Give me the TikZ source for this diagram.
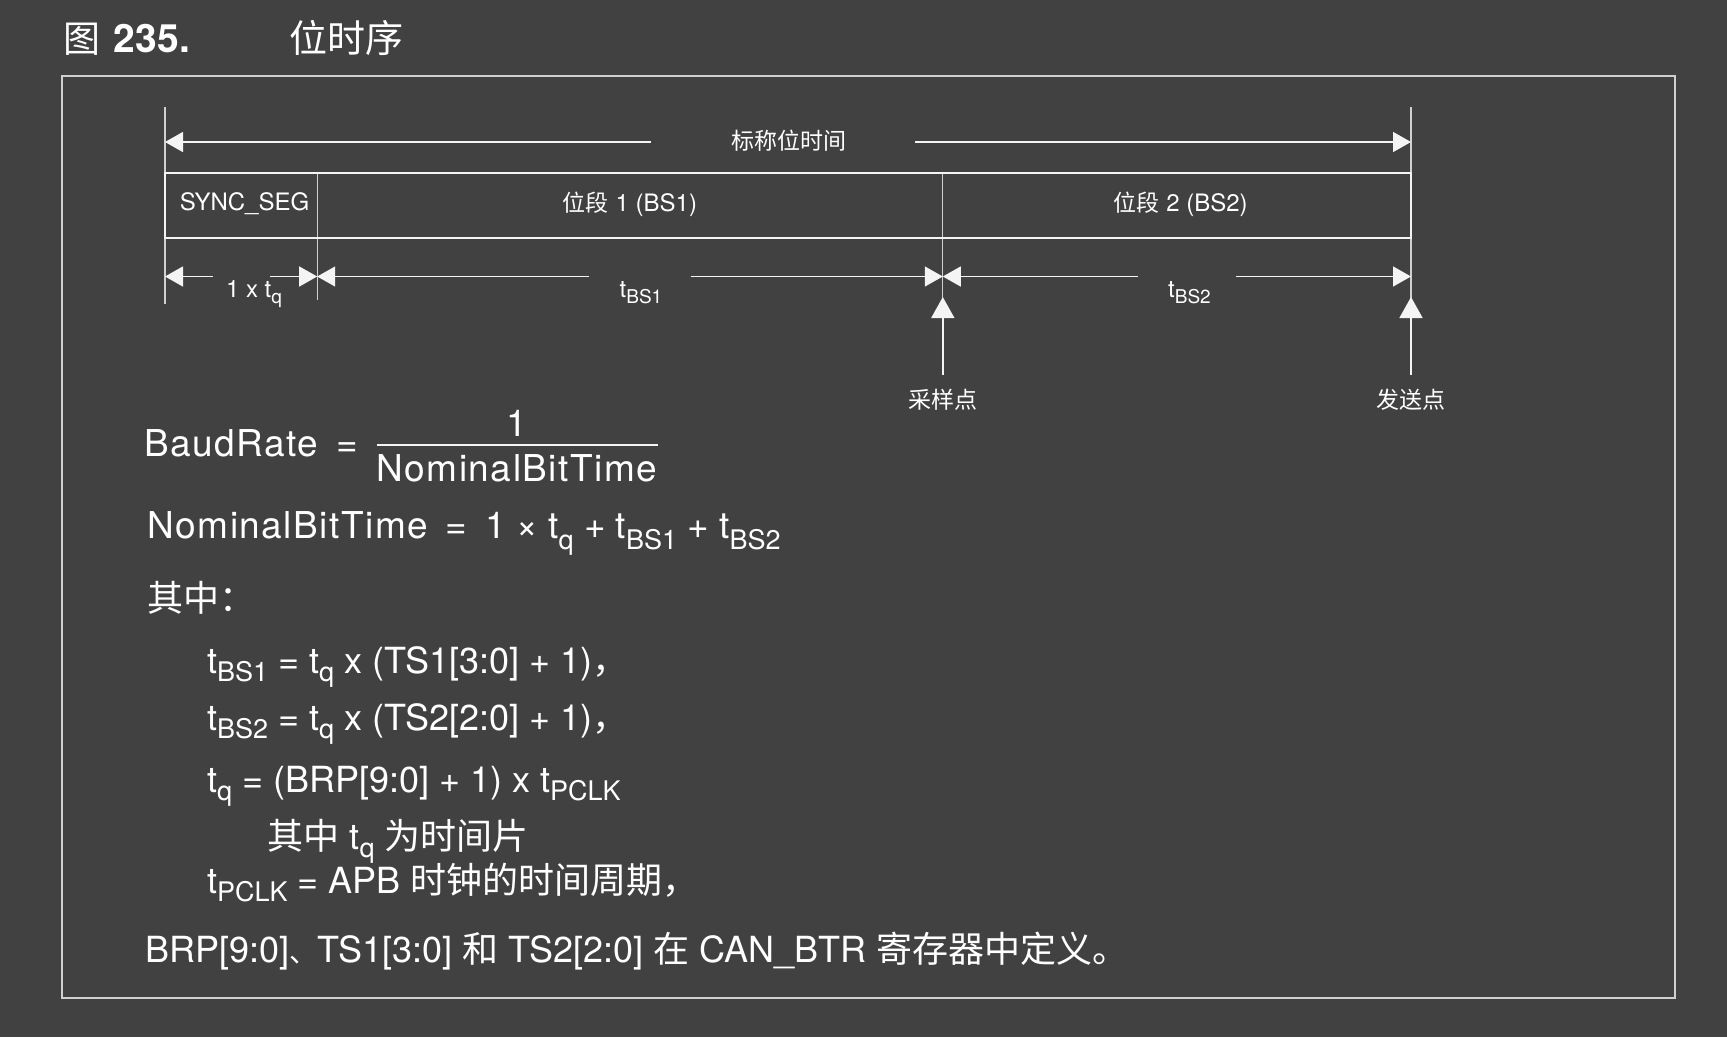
\documentclass[tikz,border=0pt]{standalone}
\usepackage{fontspec}
\setmainfont{TeX Gyre Heros}
\newfontfamily\cjk{Noto Sans CJK SC}
\newfontfamily\formfont[LetterSpace=4]{TeX Gyre Heros}
\usetikzlibrary{arrows.meta}
\definecolor{bg}{HTML}{414141}
\definecolor{ln}{HTML}{F4F4F4}
\definecolor{vl}{HTML}{D0D0D0}
\newcommand\fs[1]{\fontsize{#1}{#1}\selectfont}
\newcommand\dsub[1]{\raisebox{-6pt}{\fs{19}#1}}
\newcommand\msub[1]{\raisebox{-11pt}{\fs{27}#1}}
\newcommand\lsub[1]{\raisebox{-8pt}{\fs{27}#1}}
\tikzset{
  txt/.style={text=white, inner sep=0pt, outer sep=0pt},
  arr/.style={draw=ln, line width=1.4pt, -{Triangle[length=18pt,width=20pt]}},
  uparr/.style={draw=ln, line width=1.6pt, -{Triangle[length=21pt,width=23pt]}},
  vline/.style={draw=vl, line width=1.3pt},
  boxline/.style={draw=ln, line width=2pt},
  frameline/.style={draw=vl, line width=1.6pt}
}
\begin{document}
\begin{tikzpicture}[x=1pt,y=-1pt]
\fill[bg] (0,0) rectangle (1727,1037);
\useasboundingbox (0,0) rectangle (1727,1037);

% title
\node[txt,anchor=base west] (fig) at (63,52) {{\cjk\fs{37}图}\hspace{14pt}{\bfseries\fs{39}235.}};
\node[txt,anchor=base west] (ttl) at (289,52) {\cjk\fs{38}位时序};

% frame
\draw[frameline] (61.7,76) rectangle (1675,998);

% coordinates
\coordinate (LT) at (165,107);
\coordinate (LB) at (165,304);
\coordinate (RT) at (1411,107);
\coordinate (RB) at (1411,300);
\coordinate (ST) at (317.2,173);
\coordinate (SB) at (317.2,300);
\coordinate (PT) at (942.8,173);
\coordinate (PB) at (942.8,300);
\coordinate (BoxA) at (165,173);
\coordinate (BoxB) at (1411,238);
\coordinate (topL) at (165,142);
\coordinate (topGL) at (651,142);
\coordinate (topGR) at (915,142);
\coordinate (topR) at (1411,142);
\coordinate (a0) at (165,276.5);
\coordinate (a1) at (212.6,276.5);
\coordinate (a2) at (269.8,276.5);
\coordinate (a3) at (317.2,276.5);
\coordinate (b1) at (589,276.5);
\coordinate (b2) at (690.6,276.5);
\coordinate (b3) at (942.8,276.5);
\coordinate (c1) at (1137.7,276.5);
\coordinate (c2) at (1235.7,276.5);
\coordinate (c3) at (1411,276.5);
\coordinate (upPb) at (942.8,374.5);
\coordinate (upPt) at (942.8,297);
\coordinate (upRb) at (1411,374.5);
\coordinate (upRt) at (1411,297);

% vertical lines and box
\draw[vline] (LT) -- (LB);
\draw[vline] (RT) -- (RB);
\draw[vline] (ST) -- (SB);
\draw[vline] (PT) -- (PB);
\draw[boxline] (BoxA) rectangle (BoxB);

% top arrows
\draw[arr] (topGL) -- (topL);
\draw[arr] (topGR) -- (topR);
\node[txt] (nom) at (788.6,141) {\cjk\fs{23}标称位时间};

% box labels
\node[txt] (sync) at (244.5,204) {\fs{24}SYNC\_SEG};
\node[txt] (bsone) at (630,204) {\fs{24}{\cjk\fs{23}位段} 1 (BS1)};
\node[txt] (bstwo) at (1180.7,204) {\fs{24}{\cjk\fs{23}位段} 2 (BS2)};

% lower arrows
\draw[arr] (a1) -- (a0);
\draw[arr] (a2) -- (a3);
\draw[arr] (b1) -- (a3);
\draw[arr] (b2) -- (b3);
\draw[arr] (c1) -- (b3);
\draw[arr] (c2) -- (c3);
\node[txt,anchor=base] (tq) at (254,297) {\fs{24}1 x t\dsub{q}};
\node[txt,anchor=base] (tbs1) at (641,297) {\fs{24}t\dsub{BS1}};
\node[txt,anchor=base] (tbs2) at (1189.5,297) {\fs{24}t\dsub{BS2}};

% up arrows
\draw[uparr] (upPb) -- (upPt);
\draw[uparr] (upRb) -- (upRt);
\node[txt] (samp) at (942.8,400) {\cjk\fs{23}采样点};
\node[txt] (send) at (1411,400) {\cjk\fs{23}发送点};

% formula 1
\node[txt,anchor=base west] (baud) at (144.3,456) {\formfont\fs{37}BaudRate};
\node[txt,anchor=base] (eqa) at (347,456) {\fs{37}=};
\node[txt,anchor=base] (num) at (517,436) {\fs{37}1};
\coordinate (barL) at (376.7,445);
\coordinate (barR) at (657.5,445);
\draw[draw=ln, line width=1.8pt] (barL) -- (barR);
\node[txt,anchor=base west] (den) at (376.7,481) {\formfont\fs{37}NominalBitTime};

% formula 2
\node[txt,anchor=base west] (nbt) at (147.6,538.5) {\formfont\fs{37}NominalBitTime};
\node[txt,anchor=base] (eqb) at (456,538.5) {\fs{37}=};
\node[txt,anchor=base west] (rhs) at (485.7,538.5) {\fs{37}1 × t\msub{q} + t\msub{BS1} + t\msub{BS2}};

% where
\node[txt,anchor=base west] (qz) at (147.6,611) {\cjk\fs{36}其中：};
\node[txt,anchor=base west] (la) at (207,673) {\fs{36}t\lsub{BS1} = t\lsub{q} x (TS1[3:0] + 1){\cjk ，}};
\node[txt,anchor=base west] (lb) at (207,730) {\fs{36}t\lsub{BS2} = t\lsub{q} x (TS2[2:0] + 1){\cjk ，}};
\node[txt,anchor=base west] (lc) at (207,792) {\fs{36}t\lsub{q} = (BRP[9:0] + 1) x t\lsub{PCLK}};
\node[txt,anchor=base west] (ld) at (267.6,849) {\fs{36}{\cjk 其中} t\lsub{q} {\cjk 为时间片}};
\node[txt,anchor=base west] (le) at (207,893) {\fs{36}t\lsub{PCLK} = APB {\cjk 时钟的时间周期，}};
\node[txt,anchor=base west] (lf) at (145.4,962) {\fs{36}BRP[9:0]{\cjk\fs{28}、}TS1[3:0] {\cjk 和} TS2[2:0] {\cjk 在} CAN\_BTR {\cjk 寄存器中定义。}};
\end{tikzpicture}
\end{document}
